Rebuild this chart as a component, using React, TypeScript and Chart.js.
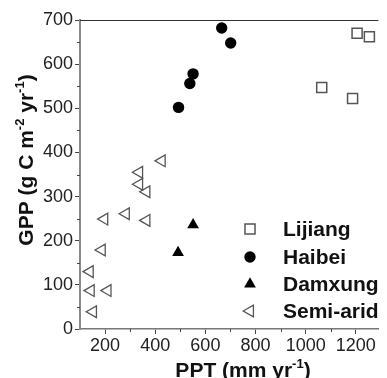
import React, { useEffect, useRef } from 'react';
import { Chart, registerables } from 'chart.js';
import { drawPoint } from 'chart.js/helpers';

Chart.register(...registerables);

// ---- data ----
const seriesNames = ['Lijiang', 'Haibei', 'Damxung', 'Semi-arid'];
const lijiangPPT = [1205, 1254, 1064, 1187];
const lijiangGPP = [670, 662, 547, 522];
const haibeiPPT = [665, 701, 551, 538, 493];
const haibeiGPP = [682, 648, 578, 556, 502];
const damxungPPT = [551, 491];
const damxungGPP = [236, 173];
const semiAridPPT = [426, 336, 336, 365, 283, 197, 365, 187, 139, 143, 210, 152];
const semiAridGPP = [381, 355, 328, 311, 261, 249, 246, 179, 130, 87, 87, 39];
const xTickValues = [200, 400, 600, 800, 1000, 1200];
const yTickValues = [0, 100, 200, 300, 400, 500, 600, 700];
const xMinorValues = [300, 500, 700, 900, 1100];
const yMinorValues = [50, 150, 250, 350, 450, 550, 650];
const xTitleParts = [{ t: 'PPT (mm yr', sup: false }, { t: '-1', sup: true }, { t: ')', sup: false }];
const yTitleParts = [
  { t: 'GPP (g C m', sup: false },
  { t: '-2', sup: true },
  { t: ' yr', sup: false },
  { t: '-1', sup: true },
  { t: ')', sup: false },
];

const FONT = '"Liberation Sans", Arial, Helvetica, sans-serif';

const toPoints = (xs: number[], ys: number[]) => xs.map((x, i) => ({ x, y: ys[i] }));

const styles = [
  { pointStyle: 'rect', rotation: 0, radius: 7.1, bg: 'rgba(0,0,0,0)', border: '#555', bw: 1.5 },
  { pointStyle: 'circle', rotation: 0, radius: 5.7, bg: '#000', border: '#000', bw: 0 },
  { pointStyle: 'triangle', rotation: 0, radius: 6.8, bg: '#000', border: '#000', bw: 0 },
  { pointStyle: 'triangle', rotation: -90, radius: 6.8, bg: 'rgba(0,0,0,0)', border: '#555', bw: 1.3 },
];

function drawRich(ctx: CanvasRenderingContext2D, parts: { t: string; sup: boolean }[], cx: number, baseY: number) {
  const main = `bold 21px ${FONT}`;
  const sup = `bold 13px ${FONT}`;
  let total = 0;
  for (const p of parts) {
    ctx.font = p.sup ? sup : main;
    total += ctx.measureText(p.t).width;
  }
  let x = cx - total / 2;
  ctx.textAlign = 'left';
  ctx.textBaseline = 'alphabetic';
  for (const p of parts) {
    ctx.font = p.sup ? sup : main;
    ctx.fillText(p.t, x, p.sup ? baseY - 9 : baseY);
    x += ctx.measureText(p.t).width;
  }
}

const extrasPlugin = {
  id: 'extras',
  afterDraw(chart: any) {
    const ctx: CanvasRenderingContext2D = chart.ctx;
    const { left, right, top, bottom } = chart.chartArea;
    const xs = chart.scales.x;
    const ys = chart.scales.y;
    ctx.save();
    // top frame line
    ctx.strokeStyle = '#333';
    ctx.lineWidth = 1;
    ctx.beginPath();
    ctx.moveTo(left, top + 0.5);
    ctx.lineTo(right, top + 0.5);
    ctx.stroke();
    // minor ticks
    ctx.strokeStyle = '#444';
    ctx.beginPath();
    for (const v of xMinorValues) {
      const px = Math.round(xs.getPixelForValue(v)) + 0.5;
      ctx.moveTo(px, bottom);
      ctx.lineTo(px, bottom + 3);
    }
    for (const v of yMinorValues) {
      const py = Math.round(ys.getPixelForValue(v)) + 0.5;
      ctx.moveTo(left, py);
      ctx.lineTo(left - 3, py);
    }
    ctx.stroke();
    // axis titles
    ctx.fillStyle = '#111';
    drawRich(ctx, xTitleParts, 243, 377);
    ctx.save();
    ctx.translate(33, 160);
    ctx.rotate(-Math.PI / 2);
    drawRich(ctx, yTitleParts, 0, 0);
    ctx.restore();
    // legend
    const rowsY = [229, 257, 284, 311];
    seriesNames.forEach((name, i) => {
      const s = styles[i];
      ctx.fillStyle = s.bg;
      ctx.strokeStyle = s.border;
      ctx.lineWidth = s.bw;
      drawPoint(ctx, { pointStyle: s.pointStyle as any, rotation: s.rotation, radius: s.radius, borderWidth: s.bw } as any, 250, rowsY[i]);
      ctx.fillStyle = '#111';
      ctx.font = `bold 21px ${FONT}`;
      ctx.textAlign = 'left';
      ctx.textBaseline = 'middle';
      ctx.fillText(name, 283, rowsY[i] + 1);
    });
    ctx.restore();
  },
};

export default function App() {
  const ref = useRef<HTMLCanvasElement>(null);
  useEffect(() => {
    document.body.style.margin = '0';
    const canvas = ref.current!;
    const allData = [
      toPoints(lijiangPPT, lijiangGPP),
      toPoints(haibeiPPT, haibeiGPP),
      toPoints(damxungPPT, damxungGPP),
      toPoints(semiAridPPT, semiAridGPP),
    ];
    const tickFont = { family: FONT, size: 18 };
    const chart = new Chart(canvas, {
      type: 'scatter',
      data: {
        datasets: seriesNames.map((name, i) => ({
          label: name,
          data: allData[i],
          pointStyle: styles[i].pointStyle as any,
          pointRotation: styles[i].rotation,
          pointRadius: styles[i].radius,
          pointHoverRadius: styles[i].radius,
          backgroundColor: styles[i].bg,
          borderColor: styles[i].border,
          borderWidth: styles[i].bw,
          clip: false as any,
        })),
      },
      options: {
        responsive: false,
        animation: false,
        devicePixelRatio: 1,
        layout: { padding: { top: 20, left: 0, right: 0, bottom: 0 } },
        plugins: { legend: { display: false }, tooltip: { enabled: false } },
        scales: {
          x: {
            type: 'linear',
            min: 100,
            max: 1290,
            afterBuildTicks: (scale: any) => {
              scale.ticks = xTickValues.map((v) => ({ value: v }));
            },
            afterFit: (scale: any) => {
              scale.height = 49;
            },
            ticks: { font: tickFont, color: '#222', padding: 1, callback: (v: any) => String(v), maxRotation: 0, autoSkip: false },
            grid: { drawOnChartArea: false, drawTicks: true, tickLength: 5, color: '#444', lineWidth: 1 },
            border: { display: true, color: '#777', width: 1.5 },
          },
          y: {
            type: 'linear',
            min: 0,
            max: 700,
            afterBuildTicks: (scale: any) => {
              scale.ticks = yTickValues.map((v) => ({ value: v }));
            },
            afterFit: (scale: any) => {
              scale.width = 80;
            },
            ticks: { font: tickFont, color: '#222', padding: 2, callback: (v: any) => String(v), autoSkip: false },
            grid: { drawOnChartArea: false, drawTicks: true, tickLength: 5, color: '#444', lineWidth: 1 },
            border: { display: true, color: '#8a8a8a', width: 2 },
          },
        },
      },
      plugins: [extrasPlugin],
    });
    return () => chart.destroy();
  }, []);
  return (
    <div style={{ width: 387, height: 378 }}>
      <canvas ref={ref} width={387} height={378} />
    </div>
  );
}
